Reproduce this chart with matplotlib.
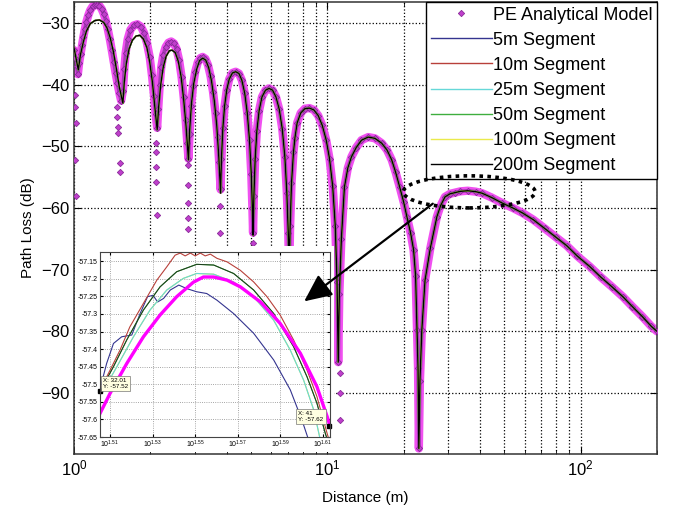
import matplotlib
matplotlib.use("Agg")
import matplotlib.pyplot as plt
from matplotlib.patches import Ellipse, Rectangle, FancyArrowPatch

plt.rcParams["font.family"] = ["Liberation Sans", "DejaVu Sans"]
plt.rcParams["mathtext.fontset"] = "custom"
plt.rcParams["mathtext.rm"] = "Liberation Sans"

# ---- main plot data ----
# PE analytical model, lobes up to the null near 11 m
near_pe_dist = [1.000, 1.012, 1.024, 1.036, 1.048, 1.062, 1.076, 1.090, 1.105, 1.120, 1.140, 1.160,
                1.185, 1.210, 1.235, 1.260, 1.285, 1.310, 1.335, 1.360, 1.385, 1.410, 1.435, 1.460,
                1.485, 1.510, 1.535,
                1.56, 1.58, 1.60, 1.63, 1.67, 1.72, 1.78, 1.84, 1.89, 1.94, 1.99, 2.03, 2.07, 2.10, 2.13,
                2.15, 2.18, 2.21, 2.25, 2.30, 2.36, 2.42, 2.48, 2.54, 2.60, 2.66, 2.71, 2.76, 2.80, 2.83,
                2.86, 2.90, 2.95, 3.01, 3.08, 3.15, 3.22, 3.30, 3.38, 3.46, 3.54, 3.62, 3.69, 3.74, 3.79,
                3.82, 3.87, 3.93, 4.01, 4.10, 4.22, 4.35, 4.48, 4.60, 4.72, 4.83, 4.93, 5.01, 5.06, 5.09,
                5.13, 5.19, 5.27, 5.38, 5.52, 5.70, 5.89, 6.08, 6.27, 6.46, 6.64, 6.80, 6.92, 7.01, 7.07,
                7.13, 7.22, 7.35, 7.45, 7.60, 7.85, 8.15, 8.50, 8.85, 9.20, 9.55, 9.90, 10.20, 10.50,
                10.75, 10.92, 11.04]
near_pe_loss = [-34.4, -35.6, -37.0, -38.3, -36.5, -35.0, -33.6, -32.2, -30.9, -29.8, -28.7, -27.9,
                -27.3, -27.1, -27.0, -27.2, -27.7, -28.5, -29.6, -31.0, -32.6, -34.4, -36.3, -38.1,
                -39.8, -41.3, -42.6,
                -41.0, -37.5, -34.8, -32.6, -31.1, -30.4, -30.2, -30.6, -31.6, -33.2, -35.5, -38.4, -41.8, -44.8, -47.0,
                -44.0, -40.0, -37.2, -35.2, -33.9, -33.2, -33.0, -33.3, -34.2, -36.0, -38.8, -42.0, -45.8, -49.5, -52.0,
                -48.0, -43.5, -40.2, -37.9, -36.4, -35.7, -35.5, -35.8, -36.8, -38.6, -41.2, -44.6, -48.5, -52.5, -57.0,
                -52.0, -47.0, -43.5, -40.8, -39.1, -38.1, -37.9, -38.2, -39.3, -41.4, -44.6, -49.0, -54.5, -60.0, -64.0,
                -58.0, -52.0, -47.5, -44.2, -42.0, -40.9, -40.6, -40.9, -42.0, -44.0, -47.2, -51.8, -57.5, -64.0, -71.0,
                -63.0, -56.0, -51.0, -48.6, -46.2, -44.6, -43.9, -43.8, -44.1, -45.0, -46.6, -49.0, -52.0, -56.5,
                -63.0, -72.0, -85.0]

# segment models, same range (they sit a little lower on the first lobes)
near_seg_dist = [1.000, 1.020, 1.040, 1.060, 1.090, 1.120, 1.160, 1.210, 1.260, 1.310, 1.350, 1.390,
                 1.430, 1.470, 1.510, 1.560,
                 1.58, 1.61, 1.65, 1.70, 1.76, 1.82, 1.88, 1.94, 1.99, 2.04, 2.08, 2.13,
                 2.16, 2.20, 2.25, 2.31, 2.38, 2.44, 2.51, 2.58, 2.65, 2.71, 2.77, 2.83,
                 2.86, 2.91, 2.97, 3.05, 3.13, 3.22, 3.31, 3.40, 3.49, 3.58, 3.66, 3.73, 3.79,
                 3.82, 3.87, 3.93, 4.01, 4.10, 4.22, 4.35, 4.48, 4.60, 4.72, 4.83, 4.93, 5.01, 5.06, 5.09,
                 5.13, 5.19, 5.27, 5.38, 5.52, 5.70, 5.89, 6.08, 6.27, 6.46, 6.64, 6.80, 6.92, 7.01, 7.07,
                 7.13, 7.22, 7.35, 7.45, 7.60, 7.85, 8.15, 8.50, 8.85, 9.20, 9.55, 9.90, 10.20, 10.50,
                 10.75, 10.92, 11.04]
near_seg_loss = [-34.0, -35.8, -37.6, -35.2, -33.0, -31.3, -30.1, -29.6, -29.5, -29.9, -30.8, -32.4,
                 -34.6, -37.4, -40.4, -43.0,
                 -39.5, -36.5, -34.2, -32.8, -32.1, -32.0, -32.6, -34.0, -36.3, -39.6, -43.2, -47.3,
                 -43.5, -40.0, -37.2, -35.4, -34.5, -34.4, -34.8, -36.2, -38.8, -42.4, -46.8, -52.2,
                 -47.5, -43.0, -39.8, -37.5, -36.1, -35.7, -36.0, -37.2, -39.4, -42.6, -46.6, -51.8, -57.6,
                 -52.0, -47.0, -43.5, -40.8, -39.1, -38.1, -37.9, -38.2, -39.3, -41.4, -44.6, -49.0, -54.5, -60.0, -64.4,
                 -58.0, -52.0, -47.5, -44.2, -42.0, -40.9, -40.6, -40.9, -42.0, -44.0, -47.2, -51.8, -57.5, -64.0, -70.0,
                 -63.0, -56.0, -51.0, -48.6, -46.2, -44.6, -43.9, -43.8, -44.1, -45.0, -46.6, -49.0, -52.0, -56.5,
                 -63.0, -72.0, -85.0]

# beyond 11 m every model lies on the same curve
far_dist = [11.15, 11.36, 11.68, 12.05, 12.45, 13.0, 13.64, 14.5, 15.4, 16.4, 17.2, 17.95, 18.6,
            19.3, 20.0, 20.6, 21.3, 21.9, 22.3, 22.6, 22.8, 22.97, 23.2, 23.6, 24.3, 25.5, 27.07,
            28.0, 29.13, 30.5, 31.9, 33.5, 35.8, 38.5, 40.8, 44.5, 49.0, 54.0, 58.9, 65, 72, 79.6,
            88, 97, 108.6, 120, 133, 146.8, 160, 175, 190, 200]
far_loss = [-74.0, -65.0, -56.6, -53.5, -51.7, -50.2, -49.0, -48.5, -48.7, -49.5, -50.6, -52.2, -54.2,
            -56.6, -59.0, -61.4, -64.0, -66.8, -71.0, -79.8, -86.0, -99.0, -88.0, -79.8, -71.7, -66.5, -61.4,
            -59.6, -58.2, -57.7, -57.5, -57.3, -57.2, -57.35, -57.6, -58.3, -59.2, -60.0, -60.8, -61.9, -63.3, -64.7,
            -66.1, -67.8, -69.5, -71.2, -72.8, -74.4, -76.0, -77.6, -79.2, -80.0]

# isolated PE samples that fall deep inside the nulls
null_dist = [1.005, 1.008, 1.02, 1.005, 1.022,
             1.48, 1.48, 1.495, 1.495, 1.52, 1.52,
             2.10, 2.10, 2.11, 2.11, 2.12,
             2.81, 2.81, 2.82, 2.82, 2.83,
             3.76, 3.77, 5.09, 11.17, 11.17, 11.17]
null_loss = [-41.7, -43.6, -46.2, -52.2, -58.0,
             -43.6, -45.2, -46.9, -47.8, -52.7, -54.2,
             -49.4, -50.9, -53.3, -55.8, -61.1,
             -53.0, -56.3, -59.2, -61.6, -63.4,
             -59.7, -64.0, -65.6, -86.7, -90.0, -94.4]

segment_labels = ["5m Segment", "10m Segment", "25m Segment", "50m Segment", "100m Segment", "200m Segment"]
segment_colors = ["#34348f", "#b8403a", "#66d8d8", "#3fae3f", "#eaea4c", "#000000"]

y_ticks = [-90, -80, -70, -60, -50, -40, -30]

# ---- inset data (zoom around the last peak) ----
inset_pe_x = [32.01, 32.36, 32.95, 33.55, 34.16, 34.78, 35.41, 35.80, 36.20, 36.73, 37.26, 38.08,
              38.90, 39.76, 40.48, 40.93, 41.07]
inset_pe_y = [-57.583, -57.526, -57.441, -57.365, -57.303, -57.251, -57.210, -57.195, -57.195, -57.204,
              -57.223, -57.266, -57.327, -57.412, -57.507, -57.592, -57.621]

inset_5m_x = [32.03, 32.24, 32.48, 32.77, 33.13, 33.43, 33.70, 33.90, 34.07, 34.29, 34.54, 34.86,
              35.16, 35.54, 35.93, 36.33, 36.99, 37.80, 38.63, 39.33, 39.83, 40.12]
inset_5m_y = [-57.507, -57.441, -57.384, -57.365, -57.360, -57.299, -57.251, -57.247, -57.266, -57.256,
              -57.232, -57.218, -57.228, -57.237, -57.242, -57.261, -57.299, -57.355, -57.431, -57.516,
              -57.602, -57.659]

inset_10m_x = [32.07, 32.36, 32.71, 33.06, 33.55, 34.04, 34.41, 34.72, 34.91, 35.10, 35.30, 35.48,
               35.68, 35.87, 36.07, 36.33, 36.73, 37.26, 37.80, 38.35, 38.90, 39.47, 40.05, 40.48,
               40.93, 41.07]
inset_10m_y = [-57.507, -57.460, -57.403, -57.337, -57.270, -57.204, -57.166, -57.133, -57.127, -57.135,
               -57.127, -57.135, -57.127, -57.135, -57.130, -57.142, -57.152, -57.176, -57.209, -57.251,
               -57.303, -57.374, -57.460, -57.535, -57.640, -57.670]

inset_25m_x = [32.07, 32.60, 33.19, 33.79, 34.41, 35.03, 35.54, 36.20, 36.99, 37.80, 38.63, 39.33,
               39.90, 40.34, 40.63]
inset_25m_y = [-57.526, -57.450, -57.365, -57.289, -57.232, -57.199, -57.185, -57.187, -57.209, -57.251,
               -57.318, -57.403, -57.488, -57.573, -57.659]

inset_200m_x = [32.01, 32.48, 32.95, 33.55, 34.16, 34.78, 35.54, 36.20, 36.99, 37.80, 38.63, 39.47,
                40.05, 40.48, 40.85, 41.0]
inset_200m_y = [-57.52, -57.450, -57.374, -57.289, -57.223, -57.180, -57.159, -57.161, -57.185, -57.232,
                -57.299, -57.393, -57.479, -57.554, -57.640, -57.670]

inset_tick_exp = [1.51, 1.53, 1.55, 1.57, 1.59, 1.61]
inset_yticks = [-57.65, -57.6, -57.55, -57.5, -57.45, -57.4, -57.35, -57.3, -57.25, -57.2, -57.15]
inset_ylabels = ["-57.65", "-57.6", "-57.55", "-57.5", "-57.45", "-57.4", "-57.35", "-57.3",
                 "-57.25", "-57.2", "-57.15"]

tip_x = [32.01, 41.0]
tip_y = [-57.52, -57.62]


def main():
    fig = plt.figure(figsize=(6.78, 5.11), dpi=100)
    ax = fig.add_axes([0.1091, 0.1115, 0.8599, 0.8845])

    pe_dist = near_pe_dist + far_dist
    pe_loss = near_pe_loss + far_loss
    seg_dist = near_seg_dist + far_dist
    seg_loss = near_seg_loss + far_loss

    # magenta glow and purple core under the PE markers
    ax.plot(pe_dist, pe_loss, "-", color="#f050f0", lw=6.0, zorder=2, solid_capstyle="round")
    ax.plot(pe_dist, pe_loss, "-", color="#a43cb4", lw=2.6, zorder=2, solid_capstyle="round")
    mk = dict(marker="D", ms=3.2, mfc="#c040cc", mec="#8a2a9a", mew=0.6, ls="none")
    ax.plot(pe_dist, pe_loss, zorder=3, label="PE Analytical Model", **mk)
    ax.plot(null_dist, null_loss, zorder=3, **mk)

    for lab, col in zip(segment_labels, segment_colors):
        ax.plot(seg_dist, seg_loss, "-", color=col, lw=1.0, zorder=4, label=lab)

    ax.set_xscale("log")
    ax.set_xlim(1, 200)
    ax.set_ylim(-99.9, -26.6)
    ax.set_yticks(y_ticks)
    ax.grid(True, which="major", color="black", ls=":", lw=0.9)
    ax.grid(True, which="minor", axis="x", color="black", ls=":", lw=0.9)
    ax.tick_params(which="both", direction="in", top=True, right=True, labelsize=12)
    ax.tick_params(which="major", length=5)
    ax.tick_params(which="minor", length=3)
    for s in ax.spines.values():
        s.set_linewidth(1.1)
        s.set_color("#333333")
    ax.set_xlabel("Distance (m)", fontsize=11, labelpad=9)
    ax.set_ylabel("Path Loss (dB)", fontsize=11, labelpad=4)

    leg = ax.legend(loc="upper right", fontsize=13, numpoints=1, handlelength=3.4,
                    handletextpad=0.05, labelspacing=0.45, borderpad=0.25, borderaxespad=0,
                    fancybox=False, framealpha=1, edgecolor="black")
    leg.get_frame().set_linewidth(1.0)
    leg.set_zorder(6)

    ax.add_patch(Ellipse((0.678, 0.580), 0.226, 0.071, transform=ax.transAxes, fill=False,
                         ec="black", lw=2.6, ls=(0, (1, 1.2)), zorder=7))

    # white card behind the inset
    fig.add_artist(Rectangle((0.1106, 0.1155), 0.382, 0.403, transform=fig.transFigure,
                             fc="white", ec="none", zorder=1))

    ins = fig.add_axes([0.1475, 0.1448, 0.339, 0.362], zorder=2)
    ins.plot(inset_5m_x, inset_5m_y, color=segment_colors[0], lw=0.8)
    ins.plot(inset_25m_x, inset_25m_y, color=segment_colors[4], lw=0.8)
    ins.plot(inset_25m_x, inset_25m_y, color=segment_colors[2], lw=0.8)
    ins.plot(inset_200m_x, inset_200m_y, color=segment_colors[3], lw=0.8)
    ins.plot(inset_200m_x, inset_200m_y, color="#1d3a1d", lw=0.7)
    ins.plot(inset_10m_x, inset_10m_y, color=segment_colors[1], lw=0.8)
    ins.plot(inset_pe_x, inset_pe_y, color="#ff00ff", lw=2.4)
    ins.plot(tip_x, tip_y, "s", color="black", ms=3, ls="none", clip_on=False)

    box = dict(boxstyle="square,pad=0.35", fc="#ffffe1", ec="#777777", lw=0.5)
    ins.text(32.12, -57.513, "X: 32.01\nY: -57.52", fontsize=4.5, va="bottom", ha="left", bbox=box)
    ins.text(39.68, -57.607, "X: 41\nY: -57.62", fontsize=4.5, va="bottom", ha="left", bbox=box)

    ins.set_xscale("log")
    ins.set_xlim(32.01, 41.05)
    ins.set_ylim(-57.65, -57.124)
    ins.set_xticks([10 ** e for e in inset_tick_exp])
    ins.set_xticklabels([rf"$10^{{{e:.2f}}}$" for e in inset_tick_exp])
    ins.xaxis.set_minor_locator(matplotlib.ticker.NullLocator())
    ins.set_yticks(inset_yticks)
    ins.set_yticklabels(inset_ylabels)
    ins.tick_params(direction="in", labelsize=5, length=2, pad=1.5, top=True, right=True)
    ins.grid(True, color="#888888", ls=":", lw=0.6)
    for s in ins.spines.values():
        s.set_linewidth(0.8)
        s.set_color("#444444")

    fig.add_artist(FancyArrowPatch((0.6416, 0.6047), (0.4454, 0.4070), transform=fig.transFigure,
                                   arrowstyle="-|>,head_length=1.3,head_width=0.6",
                                   mutation_scale=13, color="black", lw=1.6, zorder=8))

    fig.savefig("out.png", dpi=100)
    plt.close(fig)


if __name__ == "__main__":
    main()
